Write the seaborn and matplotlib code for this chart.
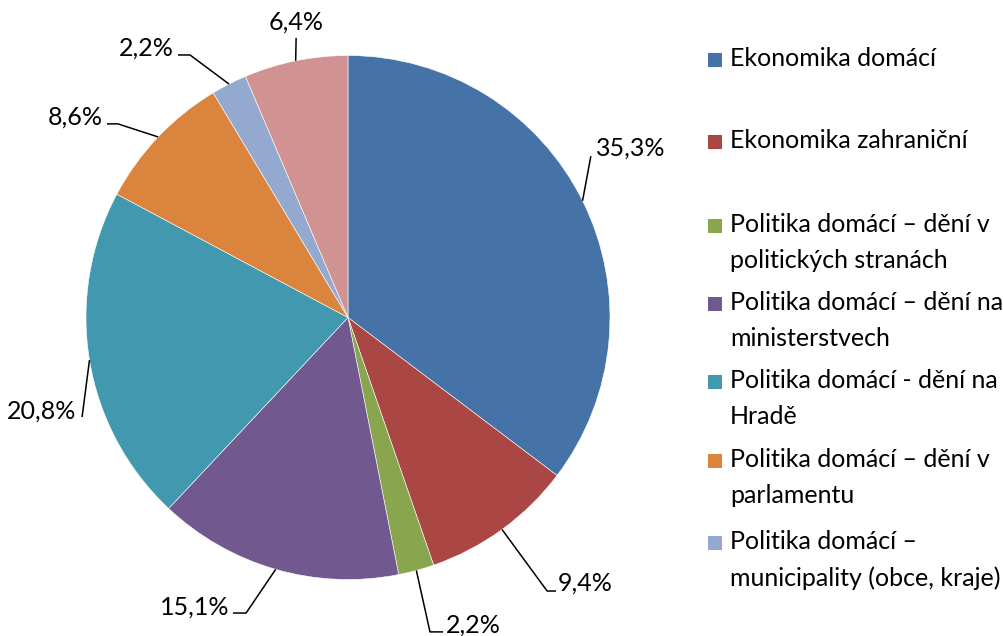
import textwrap
import numpy as np
import matplotlib
matplotlib.use("Agg")
import matplotlib.pyplot as plt
from matplotlib.patches import Rectangle
import seaborn as sns

categories = [
    "Ekonomika domácí",
    "Ekonomika zahraniční",
    "Politika domácí – dění v politických stranách",
    "Politika domácí – dění na ministerstvech",
    "Politika domácí - dění na Hradě",
    "Politika domácí – dění v parlamentu",
    "Politika domácí – municipality (obce, kraje)",
    "Ostatní",
]
values = [35.3, 9.4, 2.2, 15.1, 20.8, 8.6, 2.2, 6.4]
colors = ["#4572A7", "#AA4643", "#89A54E", "#71588F", "#4198AF",
          "#DB843D", "#93A9CF", "#D19392"]
legend_count = 7  # last entry cut off in the original

# label layout (data units of the pie, radius = 1): text anchor, ha, leader points
label_layout = [
    ((0.947, 0.647), "left", [(0.927, 0.616)]),
    ((0.802, -1.013), "left", [(0.760, -1.044), (0.794, -1.044)]),
    ((0.374, -1.174), "left", [(0.313, -1.200), (0.363, -1.200)]),
    ((-0.454, -1.105), "right", [(-0.389, -1.128), (-0.439, -1.128)]),
    ((-1.038, -0.357), "right", [(-1.015, -0.380)]),
    ((-0.935, 0.765), "right", [(-0.878, 0.739), (-0.920, 0.739)]),
    ((-0.664, 1.029), "right", [(-0.603, 1.002), (-0.649, 1.002)]),
    ((-0.198, 1.128), "center", [(-0.198, 1.067)]),
]
legend_y_px = [60, 142, 226, 304, 382, 461, 543]

sns.set_theme(style="white")
plt.rcParams["font.family"] = ["Lato", "DejaVu Sans"]

W, H = 1004, 636
fig = plt.figure(figsize=(W / 100, H / 100), dpi=100)
fig.patch.set_facecolor("white")
cx, cy, r = 348, 317.5, 262
ax = fig.add_axes([(cx - r) / W, (H - cy - r) / H, 2 * r / W, 2 * r / H])
ax.axis("off")

wedges, _ = ax.pie(values, colors=colors, startangle=90, counterclock=False,
                   radius=1, center=(0, 0), frame=False,
                   wedgeprops=dict(edgecolor="white", linewidth=0.4))
ax.set_xlim(-1, 1)
ax.set_ylim(-1, 1)
ax.set_aspect("auto")

fs = 18
for w, v, (tpos, ha, pts) in zip(wedges, values, label_layout):
    mid = np.deg2rad((w.theta1 + w.theta2) / 2)
    start = (np.cos(mid), np.sin(mid))
    xs = [start[0]] + [p[0] for p in pts]
    ys = [start[1]] + [p[1] for p in pts]
    ax.plot(xs, ys, color="black", lw=1.1, clip_on=False, solid_capstyle="butt")
    txt = f"{v:.1f}%".replace(".", ",")
    ax.text(tpos[0], tpos[1], txt, ha=ha, va="center", fontsize=fs,
            color="black", clip_on=False)

# legend
for i in range(legend_count):
    y = legend_y_px[i]
    fig.patches.append(Rectangle((708 / W, (H - y - 7) / H), 14 / W, 14 / H,
                                 transform=fig.transFigure, facecolor=colors[i],
                                 edgecolor="none"))
    label = textwrap.fill(categories[i], width=26)
    fig.text(730 / W, (H - y + 13) / H, label, ha="left", va="top", fontsize=fs,
             color="black", linespacing=1.7, transform=fig.transFigure)

fig.savefig("out.png", dpi=100, facecolor="white")
